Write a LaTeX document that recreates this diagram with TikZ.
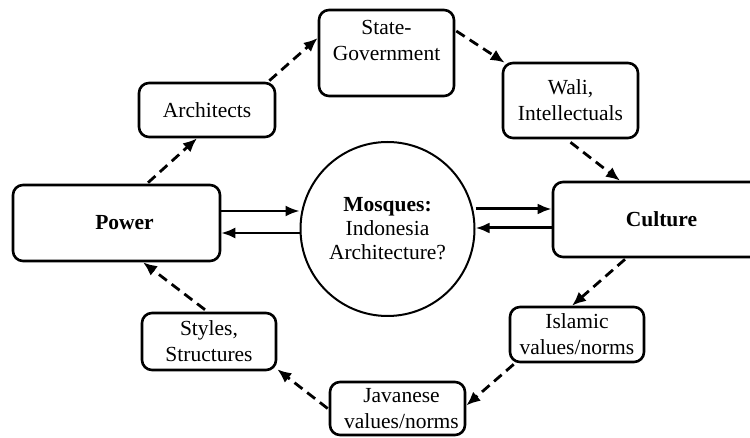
\documentclass[tikz,border=0pt]{standalone}
\usepackage{fontspec}
\setmainfont{Liberation Serif}
\usetikzlibrary{arrows.meta,calc,shapes.geometric}
\begin{document}
\begin{tikzpicture}[x=0.5pt,y=-0.5pt,
  box/.style={draw, line width=1.3pt, rounded corners=5pt, align=center, inner sep=0pt,
    font=\fontsize{10.75}{13}\selectfont},
  bigbox/.style={box, minimum width=#1, minimum height=38pt, font=\fontsize{10.75}{13}\selectfont\bfseries},
  rnd/.style={draw, circle, line width=1pt, inner sep=0pt, minimum size=87pt, align=center,
    font=\fontsize{10.75}{12}\selectfont},
  dashar/.style={line width=1.4pt, dash pattern=on 5pt off 3pt, -{Latex[length=7pt,width=6pt]}},
  solar/.style={line width=1.1pt, -{Latex[length=7pt,width=5.5pt]}},
  solarb/.style={line width=1.5pt, -{Latex[length=7pt,width=5.5pt]}}
]
\useasboundingbox (0,0) rectangle (750,438);
% main nodes
\node[bigbox=103.5pt] (power) at (116.5,223) {\hspace*{8pt}Power};
\node[bigbox=108.5pt, minimum height=37.5pt] (culture) at (661.5,219.5) {Culture};
\node[rnd] (mosque) at (387.5,229) {\textbf{Mosques:}\\Indonesia\\Architecture?};
% satellites
\node[box, minimum width=68pt, minimum height=27pt] (arch) at (207,110) {Architects};
\node[box, minimum width=67.5pt, minimum height=43pt] (state) at (386.5,53) {State-\\Government\\\mbox{}};
\node[box, minimum width=67.5pt, minimum height=37.5pt] (wali) at (570.5,100.5) {Wali,\\Intellectuals};
\node[box, minimum width=67pt, minimum height=27.5pt] (islamic) at (577,334.5) {Islamic\\values/norms};
\node[box, minimum width=67.5pt, minimum height=26.5pt] (javanese) at (397.5,408.5) {\hspace*{4pt}Javanese\\\hspace*{4pt}values/norms};
\node[box, minimum width=67pt, minimum height=28.5pt] (styles) at (209,341.5) {Styles,\\Structures};
% dashed cycle
\draw[dashar] ($(power.north)+(31.5,-1)$) -- ($(arch.south)+(-10,0)$);
\draw[dashar] ($(arch.north east)+(-7,-1)$) -- ($(state.west)+(0,-15)$);
\draw[dashar] ($(state.east)+(1,-22)$) -- ($(wali.north west)+(3,1)$);
\draw[dashar] ($(wali.south)+(0,3)$) -- ($(culture.north)+(-41.5,0)$);
\draw[dashar] ($(culture.south)+(-36.5,1)$) -- ($(islamic.north)+(-5,0)$);
\draw[dashar] ($(islamic.south west)+(5,1)$) -- ($(javanese.east)+(0,-3)$);
\draw[dashar] ($(javanese.west)+(-1,0)$) -- ($(styles.south east)+(0,-2)$);
\draw[dashar] ($(styles.north)+(-4,-2)$) -- ($(power.south)+(26.5,0)$);
% solid arrows
\coordinate (p1) at ($(power.east)+(0,-12)$);
\coordinate (p2) at ($(power.east)+(0,10)$);
\coordinate (c1) at ($(culture.west)+(0,-10.5)$);
\coordinate (c2) at ($(culture.west)+(0,8.5)$);
\draw[solar] (p1) -- (p1 -| mosque.west);
\draw[solar] (p2 -| mosque.west) -- (p2);
\draw[solarb] (c1 -| mosque.east) -- (c1);
\draw[solarb] (c2) -- (c2 -| mosque.east);
\end{tikzpicture}
\end{document}
